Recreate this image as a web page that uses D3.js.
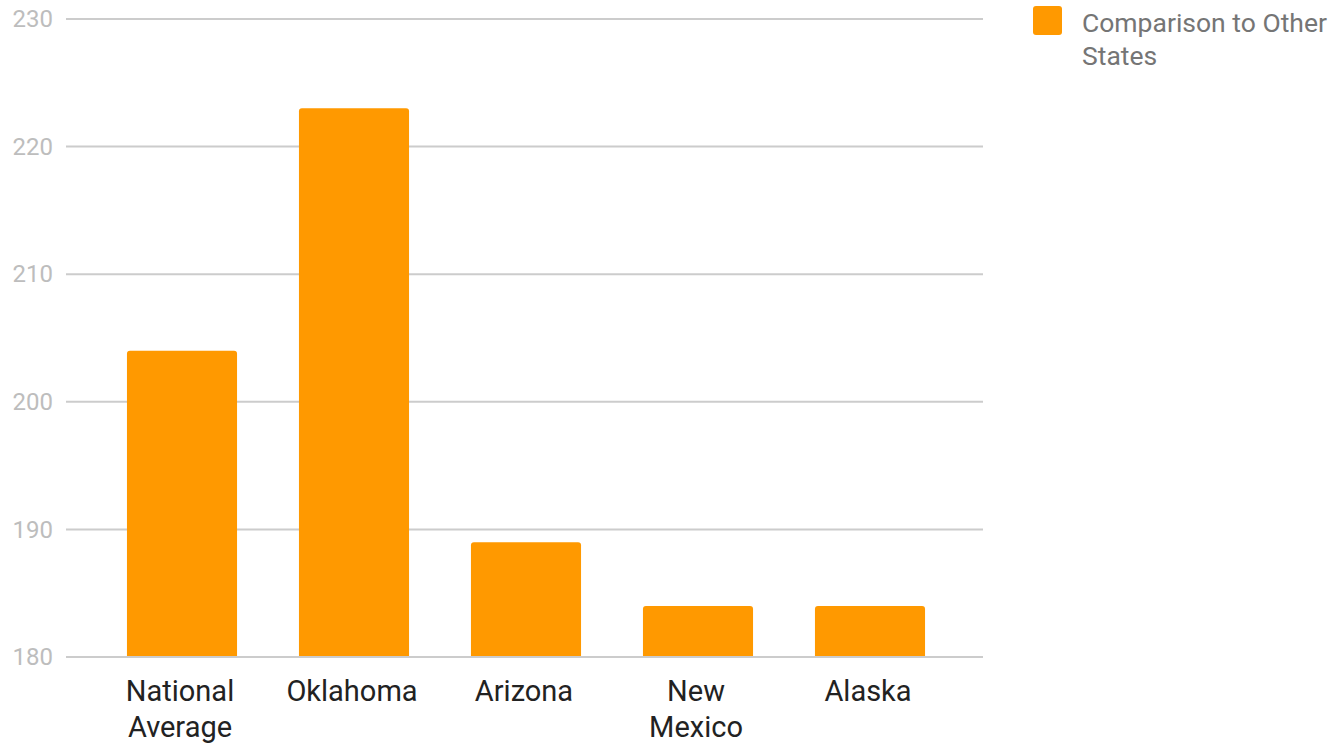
<!DOCTYPE html>
<html>
<head>
<meta charset="utf-8">
<script src="https://cdn.jsdelivr.net/npm/d3@7"></script>
<style>
  body { margin: 0; background: #fff; }
  svg { display: block; font-family: Roboto, sans-serif; }
</style>
</head>
<body>
<svg></svg>
<script>
// chart data
const categories = [["National", "Average"], ["Oklahoma"], ["Arizona"], ["New", "Mexico"], ["Alaska"]];
const values = [204, 223, 189, 184, 184];
const yTicks = [180, 190, 200, 210, 220, 230];
const seriesName = ["Comparison to Other", "States"];

const w = 1338, h = 744;
const barColor = "#ff9900";

let svg = d3.select("svg").attr("width", w).attr("height", h);

// scales
let xScale = d3.scaleBand()
  .domain(d3.range(categories.length))
  .range([96, 956])
  .paddingInner(0.36)
  .paddingOuter(0.18);

let yScale = d3.scaleLinear()
  .domain([180, 230])
  .range([657, 19]);

// gridlines
svg.append("g")
  .selectAll("line")
  .data(yTicks)
  .enter()
  .append("line")
  .attr("x1", 66)
  .attr("x2", 983)
  .attr("y1", d => yScale(d))
  .attr("y2", d => yScale(d))
  .attr("stroke", "#cccccc")
  .attr("stroke-width", 2);

// y axis labels
let yAxis = d3.axisLeft(yScale).tickValues(yTicks).tickSize(0).tickPadding(0);
let yG = svg.append("g")
  .attr("transform", "translate(53,0)")
  .call(yAxis);
yG.select(".domain").remove();
yG.selectAll("text")
  .attr("font-family", "Roboto, sans-serif")
  .attr("font-size", 24)
  .attr("fill", "#bdbdbd");

// bars with rounded tops
let bw = xScale.bandwidth();
let r = 3;
svg.append("g")
  .selectAll("path")
  .data(values)
  .enter()
  .append("path")
  .attr("fill", barColor)
  .attr("d", (v, i) => {
    let x0 = xScale(i), x1 = x0 + bw;
    let y0 = yScale(v), yb = yScale(180) - 1;
    return `M${x0},${yb}V${y0 + r}Q${x0},${y0} ${x0 + r},${y0}H${x1 - r}Q${x1},${y0} ${x1},${y0 + r}V${yb}Z`;
  });

// category labels
let xl = svg.append("g")
  .selectAll("text")
  .data(categories)
  .enter()
  .append("text")
  .attr("text-anchor", "middle")
  .attr("font-size", 29)
  .attr("fill", "#222222")
  .attr("x", (d, i) => xScale(i) + bw / 2 - 2)
  .attr("y", 701);
xl.selectAll("tspan")
  .data(d => d)
  .enter()
  .append("tspan")
  .attr("x", function () { return d3.select(this.parentNode).attr("x"); })
  .attr("dy", (d, i) => i === 0 ? 0 : 36)
  .text(d => d);

// legend
svg.append("rect")
  .attr("x", 1033)
  .attr("y", 6)
  .attr("width", 29)
  .attr("height", 29)
  .attr("rx", 3)
  .attr("fill", barColor);

svg.append("text")
  .attr("font-size", 26.5)
  .attr("fill", "#757575")
  .selectAll("tspan")
  .data(seriesName)
  .enter()
  .append("tspan")
  .attr("x", 1082)
  .attr("y", (d, i) => 32 + i * 33)
  .text(d => d);
</script>
</body>
</html>
